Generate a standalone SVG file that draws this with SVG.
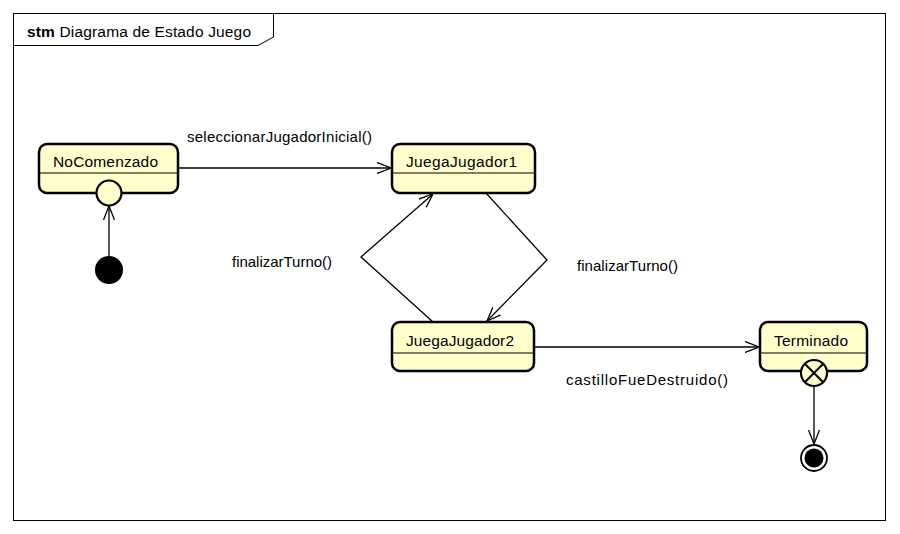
<svg xmlns="http://www.w3.org/2000/svg" width="900" height="534" viewBox="0 0 900 534">
<style>
.frame{fill:none;stroke:#000;stroke-width:1}
.state{fill:#FFFFCC;stroke:#000;stroke-width:2.5}
.div{stroke:#000;stroke-width:1.2}
.lbl{font-family:"Liberation Sans",Arial,sans-serif;font-size:15.5px;fill:#000}
.elbl{font-family:"Liberation Sans",Arial,sans-serif;font-size:15px;fill:#000}
.edge{fill:none;stroke:#000;stroke-width:1.3}
</style>
<defs>
<marker id="open" viewBox="0 0 14 12" refX="14" refY="6" markerWidth="14" markerHeight="12" markerUnits="userSpaceOnUse" orient="auto">
<path d="M0,0.5 L14,6 L0,11.5" fill="none" stroke="#000" stroke-width="1.3"/>
</marker>
</defs>
<rect width="900" height="534" fill="#fff"/>
<g id="frame">
<rect class="frame" x="13.5" y="13.5" width="872" height="507"/>
<path class="frame" d="M13.5,45.5 L258,45.5 L273.5,37 L273.5,13.5"/>
<text x="27" y="37" class="lbl" font-size="15px" textLength="224" lengthAdjust="spacing"><tspan font-weight="bold">stm</tspan> Diagrama de Estado Juego</text>
</g>
<g id="connectors">
<line class="edge" x1="109" y1="256" x2="109" y2="206" marker-end="url(#open)"/>
<line class="edge" x1="178" y1="168" x2="391" y2="168" marker-end="url(#open)"/>
<polyline class="edge" points="486,193 547,260 487,321" marker-end="url(#open)"/>
<polyline class="edge" points="433,322 361,257 433,194" marker-end="url(#open)"/>
<line class="edge" x1="534" y1="347" x2="759" y2="347" marker-end="url(#open)"/>
<line class="edge" x1="814" y1="386" x2="814" y2="444" marker-end="url(#open)"/>
<text class="elbl" x="187" y="142" textLength="185" lengthAdjust="spacing">seleccionarJugadorInicial()</text>
<text class="elbl" x="232" y="267" textLength="100" lengthAdjust="spacing">finalizarTurno()</text>
<text class="elbl" x="577" y="271" textLength="101" lengthAdjust="spacing">finalizarTurno()</text>
<text class="elbl" x="566" y="385" textLength="162" lengthAdjust="spacing">castilloFueDestruido()</text>
</g>
<g id="initial">
<circle cx="109" cy="270" r="14" fill="#000"/>
</g>
<g id="NoComenzado">
<rect class="state" x="39" y="144" width="139" height="49" rx="8"/>
<line class="div" x1="40" y1="173" x2="177" y2="173"/>
<text class="lbl" x="53" y="167" textLength="105" lengthAdjust="spacing">NoComenzado</text>
<circle cx="109" cy="193" r="12.5" fill="#FFFFCC" stroke="#000" stroke-width="2.2"/>
</g>
<g id="JuegaJugador1">
<rect class="state" x="392" y="144" width="143" height="49" rx="8"/>
<line class="div" x1="393" y1="173" x2="534" y2="173"/>
<text class="lbl" x="406" y="167" textLength="111" lengthAdjust="spacing">JuegaJugador1</text>
</g>
<g id="JuegaJugador2">
<rect class="state" x="392" y="322" width="142" height="49" rx="8"/>
<line class="div" x1="393" y1="353" x2="533" y2="353"/>
<text class="lbl" x="406" y="346" textLength="108" lengthAdjust="spacing">JuegaJugador2</text>
</g>
<g id="Terminado">
<rect class="state" x="760" y="322" width="107" height="49" rx="8"/>
<line class="div" x1="761" y1="353" x2="866" y2="353"/>
<text class="lbl" x="774" y="346" textLength="74" lengthAdjust="spacing">Terminado</text>
<circle cx="814" cy="373" r="13" fill="#FFFFCC" stroke="#000" stroke-width="2.2"/>
<path d="M804.8,363.8 L823.2,382.2 M823.2,363.8 L804.8,382.2" stroke="#000" stroke-width="2"/>
</g>
<g id="final">
<circle cx="814" cy="458" r="13" fill="#fff" stroke="#000" stroke-width="1.8"/>
<circle cx="814" cy="458" r="9.5" fill="#000"/>
</g>
</svg>
